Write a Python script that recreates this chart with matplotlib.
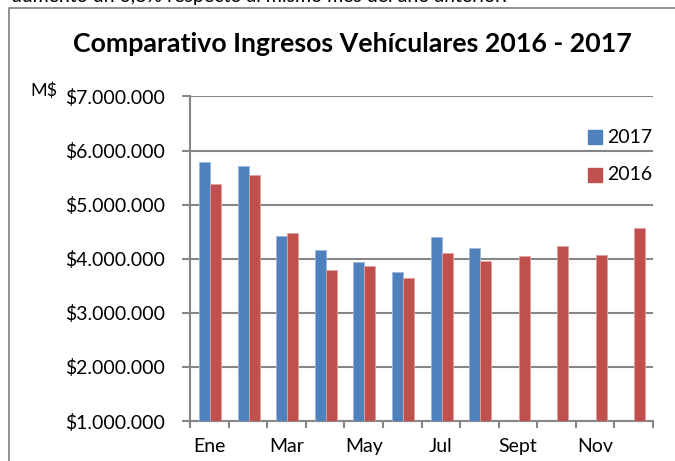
import matplotlib
matplotlib.use("Agg")
import matplotlib.pyplot as plt
from matplotlib.patches import Rectangle
import numpy as np

months = ["Ene", "Feb", "Mar", "Abr", "May", "Jun", "Jul", "Ago", "Sept", "Oct", "Nov", "Dic"]
shown_labels = ["Ene", "", "Mar", "", "May", "", "Jul", "", "Sept", "", "Nov", ""]
v2017 = [5.79, 5.72, 4.42, 4.16, 3.94, 3.75, 4.40, 4.20, None, None, None, None]
v2016 = [5.38, 5.55, 4.48, 3.80, 3.87, 3.65, 4.10, 3.96, 4.05, 4.23, 4.07, 4.56]
yticks = [1, 2, 3, 4, 5, 6, 7]
ytick_labels = ["$1.000.000", "$2.000.000", "$3.000.000", "$4.000.000",
                "$5.000.000", "$6.000.000", "$7.000.000"]

BLUE = "#4F81BD"
RED = "#C0504D"
GRID = "#868686"
FONT = "Lato"

W, H = 675, 461
fig = plt.figure(figsize=(W / 100, H / 100), dpi=100)
ax = fig.add_axes([190 / W, 1 - 421 / H, (653 - 190) / W, (421 - 96.5) / H])

x = np.arange(len(months))
bw = 0.285
x17 = [xi for xi, v in zip(x, v2017) if v is not None]
h17 = [v - 1 for v in v2017 if v is not None]
ax.bar(np.array(x17) - bw / 2 + 0.02, h17, bw, bottom=1, color=BLUE,
       edgecolor="#9DB7DC", linewidth=0.6, label="2017", zorder=3)
ax.bar(x + bw / 2 + 0.02, [v - 1 for v in v2016], bw, bottom=1, color=RED,
       edgecolor="#E0A09E", linewidth=0.6, label="2016", zorder=3)

ax.set_xlim(-0.5, 11.5)
ax.set_ylim(1, 7)
ax.set_yticks(yticks)
ax.set_yticklabels(ytick_labels, fontname=FONT, fontsize=14)
ax.yaxis.grid(True, color=GRID, linewidth=1.5, zorder=0)
ax.set_axisbelow(True)

ax.set_xticks(np.arange(-0.5, 12, 1))
ax.set_xticklabels([])
ax.set_xticks(x, minor=True)
ax.set_xticklabels(shown_labels, minor=True, fontname=FONT, fontsize=14)
ax.tick_params(axis="x", which="minor", length=0, pad=12)
ax.tick_params(axis="x", which="major", length=5, width=1.5, color=GRID)
ax.tick_params(axis="y", length=6, width=1.5, color=GRID, pad=12)

for s in ["top", "right"]:
    ax.spines[s].set_visible(False)
for s in ["left", "bottom"]:
    ax.spines[s].set_color(GRID)
    ax.spines[s].set_linewidth(1.5)

fig.text(352 / W, 1 - 44 / H, "Comparativo Ingresos Vehículares 2016 - 2017",
         ha="center", va="center", fontname=FONT, fontweight="bold", fontsize=19.3)
fig.text(44 / W, 1 - 91 / H, "M$", ha="center", va="center", fontname=FONT, fontsize=13)

# legend drawn manually in figure coordinates
for ty, lab, col in [(137, "2017", BLUE), (175, "2016", RED)]:
    fig.patches.append(Rectangle((588 / W, 1 - (ty + 7) / H), 14 / W, 14 / H,
                                 transform=fig.transFigure, color=col))
    fig.text(607 / W, 1 - ty / H, lab, ha="left", va="center", fontname=FONT, fontsize=14)

# chart frame (extends past the right/bottom edges)
fig.patches.append(Rectangle((9 / W, -0.1), 1.2, 1.1 - 8 / H, transform=fig.transFigure,
                             fill=False, edgecolor="#7F7F7F", linewidth=1.2))
# cut-off paragraph text above the chart
fig.text(12 / W, 1 - 2 / H, "aumento un 6,8% respecto al mismo mes del año anterior.",
         ha="left", va="baseline", fontname=FONT, fontsize=14)

fig.savefig("out.png", dpi=100)
